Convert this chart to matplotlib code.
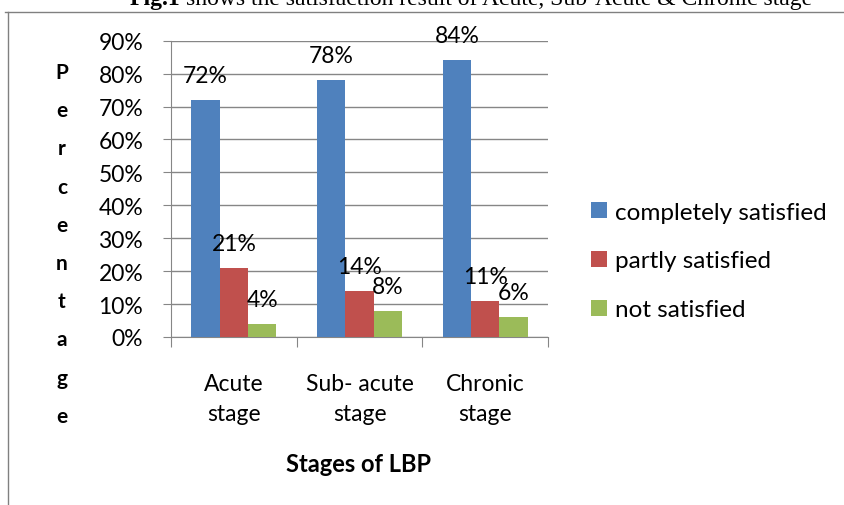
import numpy as np
import matplotlib
matplotlib.use('Agg')
import matplotlib.pyplot as plt
from matplotlib.ticker import PercentFormatter

# data
stages = ['Acute\nstage', 'Sub- acute\nstage', 'Chronic\nstage']
series = ['completely satisfied', 'partly satisfied', 'not satisfied']
completely = [0.72, 0.78, 0.84]
partly = [0.21, 0.14, 0.11]
not_sat = [0.04, 0.08, 0.06]
colors = ['#4F81BD', '#C0504D', '#9BBB59']

W, H = 844, 506
FS = 16.5
plt.rcParams['font.family'] = ['Lato', 'DejaVu Sans']
fig = plt.figure(figsize=(W / 100, H / 100), dpi=100)

def fx(px): return px / W
def fy(py): return 1 - py / H

# cut-off caption at the very top (as in the source page)
r = fig.canvas.get_renderer()
t1 = fig.text(fx(130), fy(5), 'Fig.1', family='Liberation Serif', fontweight='bold',
              fontsize=17, va='baseline', ha='left')
bb = t1.get_window_extent(r)
fig.text(fx(bb.x1 + 5), fy(5), 'shows the satisfaction result of Acute, Sub-Acute & Chronic stage',
         family='Liberation Serif', fontsize=17, va='baseline', ha='left')

# frame lines of the chart area
fig.add_artist(plt.Line2D([fx(5), 1], [fy(12.5), fy(12.5)], color='#808080', lw=1))
fig.add_artist(plt.Line2D([fx(8), fx(8)], [fy(12.5), 0], color='#808080', lw=1))

ax = fig.add_axes([fx(171), fy(338), fx(548) - fx(171), fy(41.7) - fy(338)])
x = np.arange(len(stages))
w = 0.225
for i, (vals, name) in enumerate(zip([completely, partly, not_sat], series)):
    bars = ax.bar(x + (i - 1) * w, vals, w, color=colors[i], label=name, zorder=3)
    for b, v in zip(bars, vals):
        ax.annotate(f'{v * 100:.0f}%', (b.get_x() + b.get_width() / 2, v),
                    xytext=(0, 18), textcoords='offset pixels',
                    ha='center', va='baseline', fontsize=FS, zorder=4)

ax.set_xlim(-0.5, 2.5)
ax.set_ylim(0, 0.9)
ax.set_yticks(np.arange(0, 0.91, 0.1))
ax.yaxis.set_major_formatter(PercentFormatter(1.0, decimals=0))
ax.grid(axis='y', color='#868686', lw=1, zorder=0)
for s in ['top', 'right']:
    ax.spines[s].set_visible(False)
for s in ['left', 'bottom']:
    ax.spines[s].set_color('#868686')
ax.tick_params(axis='y', length=6, color='#868686', labelsize=FS, pad=14)

ax.set_xticks([-0.5, 0.5, 1.5, 2.5])
ax.set_xticklabels([])
ax.tick_params(axis='x', which='major', length=7, color='#868686')
ax.set_xticks(x, minor=True)
ax.set_xticklabels(stages, minor=True, fontsize=FS, linespacing=1.5)
ax.tick_params(axis='x', which='minor', length=0, pad=26)

fig.text(fx(358), fy(465), 'Stages of LBP', fontsize=17, fontweight='bold',
         ha='center', va='center')

for k, ch in enumerate('Percentage'):
    fig.text(fx(62), fy(73 + k * 38.2), ch, fontsize=15, fontweight='bold',
             ha='center', va='center')

ax.legend(loc='center left', bbox_to_anchor=(fx(569), fy(262)),
          bbox_transform=fig.transFigure, frameon=False, fontsize=17.5,
          handlelength=0.65, handleheight=0.65, handletextpad=0.35,
          labelspacing=1.15)

fig.savefig('out.png', dpi=100)
